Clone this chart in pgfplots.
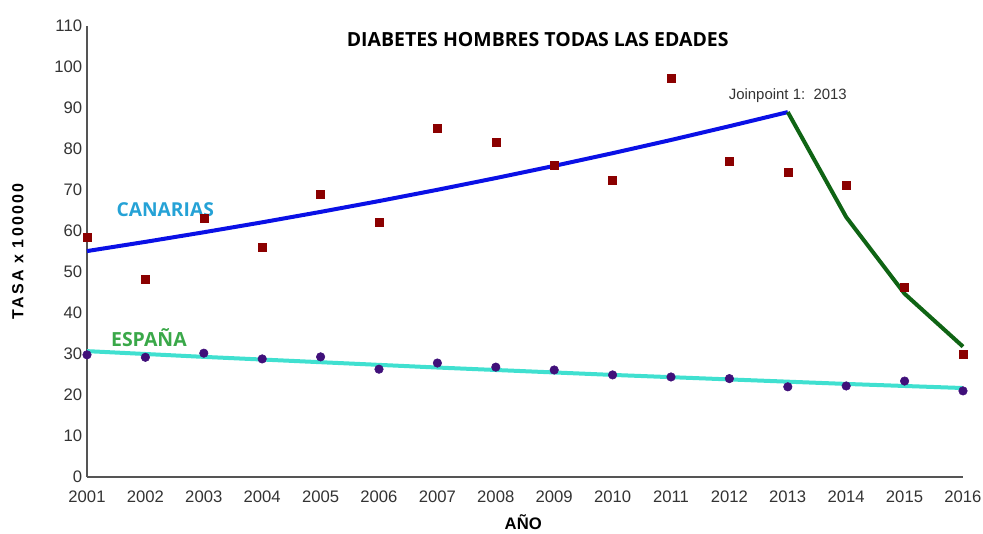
\documentclass[border=0pt]{standalone}
\usepackage{pgfplots}
\pgfplotsset{compat=1.18}
\usepackage{fontspec}
\setmainfont{Liberation Sans}
\newfontfamily\titlefont{Open Sans}
\definecolor{redm}{HTML}{8B0000}
\definecolor{purm}{HTML}{40107A}
\definecolor{blueline}{HTML}{0A10E6}
\definecolor{greenline}{HTML}{0F6414}
\definecolor{cyanline}{HTML}{40E0D0}
\definecolor{canlab}{HTML}{25A2D6}
\definecolor{esplab}{HTML}{3AA849}
\definecolor{axgray}{HTML}{555555}
\definecolor{tickgray}{HTML}{333333}
\begin{document}
\begin{tikzpicture}
\begin{axis}[
  at={(0,0)}, anchor=south west,
  scale only axis, width=657pt, height=338.25pt,
  xmin=2001, xmax=2016, ymin=0, ymax=110,
  axis x line=bottom, axis y line=left,
  axis line style={draw=axgray, line width=1.5pt, -},
  xtick={2001,...,2016}, ytick={0,10,...,110},
  major tick length=0pt,
  /pgf/number format/assume math mode=true,
  x tick label style={/pgf/number format/1000 sep={}},
  ticklabel style={font=\fontsize{12.5}{14}\selectfont, text=tickgray},
  xticklabel style={anchor=north, inner sep=0pt, yshift=-10pt},
  yticklabel style={anchor=east, inner sep=0pt, xshift=-3.5pt},
  xlabel={AÑO},
  xlabel style={at={(axis description cs:0.498,-0.0998)}, anchor=center, font=\bfseries\fontsize{12.5}{14}\selectfont},
  ylabel={\addfontfeatures{LetterSpace=14}TASA x 100000},
  ylabel style={at={(axis description cs:-0.0788,0.5)}, anchor=center, rotate=0, font=\bfseries\fontsize{12}{14}\selectfont},
  clip=false,
]
% Canarias observed
\addplot[only marks, mark=square*, mark size=3pt, mark options={draw=redm, fill=redm}] coordinates {
(2001,58.5) (2002,48.3) (2003,63.2) (2004,56.1) (2005,69.0) (2006,62.2) (2007,85.1) (2008,81.7)
(2009,76.1) (2010,72.4) (2011,97.3) (2012,77.1) (2013,74.4) (2014,71.2) (2015,46.3) (2016,30.0)};
% Espana observed
\addplot[only marks, mark=*, mark size=3.2pt, mark options={draw=purm, fill=purm}] coordinates {
(2001,29.8) (2002,29.2) (2003,30.2) (2004,28.8) (2005,29.3) (2006,26.3) (2007,27.8) (2008,26.8)
(2009,26.1) (2010,24.9) (2011,24.4) (2012,24.0) (2013,22.0) (2014,22.2) (2015,23.4) (2016,21.0)};
% Canarias fit segment 1
\addplot[blueline, line width=3pt, no marks] coordinates {
(2001,55.1) (2002,57.35) (2003,59.69) (2004,62.12) (2005,64.66) (2006,67.30) (2007,70.05)
(2008,72.91) (2009,75.88) (2010,78.98) (2011,82.20) (2012,85.56) (2013,89.0)};
% Canarias fit segment 2
\addplot[greenline, line width=3pt, no marks] coordinates {
(2013,89.0) (2014,63.4) (2015,44.7) (2016,31.8)};
% Espana fit
\addplot[cyanline, line width=3pt, no marks] coordinates {
(2001,30.7) (2002,30.0) (2003,29.3) (2004,28.65) (2005,28.0) (2006,27.35) (2007,26.7) (2008,26.1)
(2009,25.5) (2010,24.9) (2011,24.35) (2012,23.8) (2013,23.25) (2014,22.7) (2015,22.2) (2016,21.7)};
\node[font=\titlefont\bfseries\fontsize{14.6}{17}\selectfont, text=black] at (axis description cs:0.5145,0.969) {DIABETES HOMBRES TODAS LAS EDADES};
\node[font=\fontsize{11.2}{13}\selectfont, text=tickgray] at (axis cs:2013.0,92.9) {Joinpoint 1:\ \ 2013};
\node[font=\titlefont\bfseries\fontsize{14.4}{16}\selectfont, text=canlab] at (axis cs:2002.34,65.1) {CANARIAS};
\node[font=\titlefont\bfseries\fontsize{14.6}{16}\selectfont, text=esplab] at (axis cs:2002.06,33.9) {ESPAÑA};
\end{axis}
\pgfresetboundingbox
\path[use as bounding box] (-65.25pt,-42pt) rectangle (672pt,357.75pt);
\end{tikzpicture}
\end{document}
